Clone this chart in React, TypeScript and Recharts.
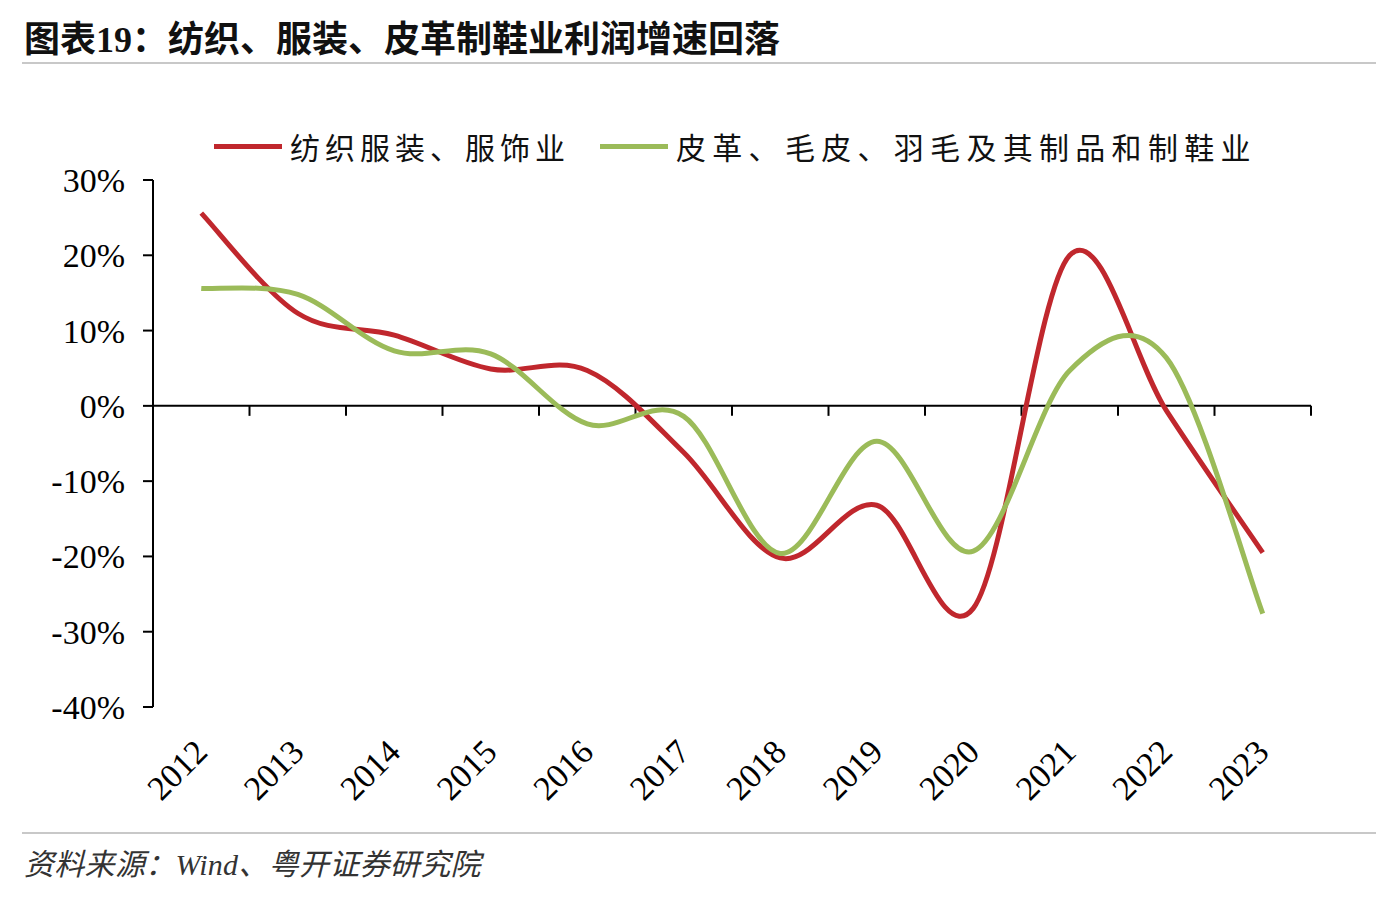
import { LineChart, Line, XAxis, YAxis, Legend, ReferenceLine } from "recharts";

const YEARS = ["2012", "2013", "2014", "2015", "2016", "2017", "2018", "2019", "2020", "2021", "2022", "2023"];
const TEXTILE = [25.6, 12.3, 9.4, 4.9, 4.7, -6.2, -20.2, -13.2, -26.9, 20.0, -0.6, -19.5];
const LEATHER = [15.6, 14.8, 7.3, 6.9, -2.4, -1.4, -19.6, -4.7, -19.3, 4.7, 6.4, -27.6];
const Y_TICKS = [-40, -30, -20, -10, 0, 10, 20, 30];

const SERIES_NAMES = ["纺织服装、服饰业", "皮革、毛皮、羽毛及其制品和制鞋业"];
const COLORS = ["#C0272D", "#9BBB59"];

const SERIF = "'Liberation Serif', 'Noto Sans CJK SC', serif";

const data = YEARS.map((year, i) => ({ year, textile: TEXTILE[i], leather: LEATHER[i] }));

// excel style smoothing (catmull-rom through every point)
const smoothCurve = (context: any) => {
  let pts: number[][] = [];
  return {
    areaStart() {},
    areaEnd() {},
    lineStart() {
      pts = [];
    },
    lineEnd() {
      if (!pts.length) return;
      context.moveTo(pts[0][0], pts[0][1]);
      for (let i = 0; i < pts.length - 1; i++) {
        const p0 = pts[Math.max(i - 1, 0)];
        const p1 = pts[i];
        const p2 = pts[i + 1];
        const p3 = pts[Math.min(i + 2, pts.length - 1)];
        context.bezierCurveTo(
          p1[0] + (p2[0] - p0[0]) / 6,
          p1[1] + (p2[1] - p0[1]) / 6,
          p2[0] - (p3[0] - p1[0]) / 6,
          p2[1] - (p3[1] - p1[1]) / 6,
          p2[0],
          p2[1]
        );
      }
    },
    point(x: number, y: number) {
      pts.push([x, y]);
    },
  };
};

const YearTick = (props: any) => {
  const { x, y, payload } = props;
  const ax = x + 8;
  const ay = y + 47;
  return (
    <text
      x={ax}
      y={ay}
      textAnchor="end"
      transform={`rotate(-45 ${ax} ${ay})`}
      fontSize={34}
      fontFamily={SERIF}
      fill="#000"
    >
      {payload.value}
    </text>
  );
};

// x axis sits on the zero line, ticks between categories
const ZeroAxis = (props: any) => {
  const { x1, y1, x2 } = props;
  const step = (x2 - x1) / YEARS.length;
  return (
    <g>
      <line x1={x1} y1={y1} x2={x2} y2={y1} stroke="#000" strokeWidth={2} />
      {YEARS.map((_, i) => {
        const tx = x1 + step * (i + 1);
        return <line key={i} x1={tx} y1={y1} x2={tx} y2={y1 + 10} stroke="#000" strokeWidth={2} />;
      })}
    </g>
  );
};

const LegendContent = (props: any) => {
  const payload = [...(props.payload || [])].sort(
    (a: any, b: any) => SERIES_NAMES.indexOf(a.value) - SERIES_NAMES.indexOf(b.value)
  );
  return (
    <div style={{ display: "flex", alignItems: "center", height: 40 }}>
      {payload.map((entry: any, i: number) => (
        <div key={entry.value} style={{ display: "flex", alignItems: "center", marginRight: i === 0 ? 30 : 0 }}>
          <span style={{ display: "inline-block", width: 68, height: 5, background: entry.color, marginRight: 8 }} />
          <span
            style={{
              fontSize: 30,
              letterSpacing: i === 0 ? 5 : 6.3,
              color: "#111",
              fontFamily: "'Noto Sans CJK SC'",
            }}
          >
            {entry.value}
          </span>
        </div>
      ))}
    </div>
  );
};

export default function App() {
  return (
    <div style={{ position: "relative", width: 1378, height: 890, background: "#fff", fontFamily: SERIF }}>
      <div
        style={{
          position: "absolute",
          left: 16,
          top: 12,
          fontSize: 36,
          lineHeight: "40px",
          fontWeight: "bold",
          color: "#111",
          whiteSpace: "nowrap",
        }}
      >
        图表19：纺织、服装、皮革制鞋业利润增速回落
      </div>
      <div style={{ position: "absolute", left: 14, top: 54, width: 1354, height: 2, background: "#c8c8c8" }} />

      <div style={{ position: "absolute", left: 0, top: 0 }}>
        <LineChart width={1378} height={820} data={data} margin={{ top: 172, right: 75, bottom: 21, left: 45 }}>
          <XAxis
            dataKey="year"
            scale="band"
            axisLine={false}
            tickLine={false}
            tickSize={0}
            tickMargin={0}
            interval={0}
            height={100}
            tick={<YearTick />}
          />
          <YAxis
            domain={[-40, 30]}
            ticks={Y_TICKS}
            interval={0}
            tickFormatter={(v: number) => `${v}%`}
            axisLine={{ stroke: "#000", strokeWidth: 2 }}
            tickLine={{ stroke: "#000", strokeWidth: 2 }}
            tickSize={10}
            tickMargin={18}
            width={100}
            tick={{ fontSize: 34, fill: "#000", fontFamily: SERIF }}
          />
          <ReferenceLine y={0} shape={<ZeroAxis />} />
          <Legend
            verticalAlign="middle"
            align="center"
            layout="horizontal"
            content={<LegendContent />}
            wrapperStyle={{ top: 118, left: 206, width: "auto" }}
          />
          <Line
            dataKey="textile"
            name={SERIES_NAMES[0]}
            type={smoothCurve as any}
            stroke={COLORS[0]}
            strokeWidth={5}
            dot={false}
            activeDot={false}
            isAnimationActive={false}
          />
          <Line
            dataKey="leather"
            name={SERIES_NAMES[1]}
            type={smoothCurve as any}
            stroke={COLORS[1]}
            strokeWidth={5}
            dot={false}
            activeDot={false}
            isAnimationActive={false}
          />
        </LineChart>
      </div>

      <div style={{ position: "absolute", left: 14, top: 824, width: 1354, height: 2, background: "#c8c8c8" }} />
      <div
        style={{
          position: "absolute",
          left: 16,
          top: 840,
          fontSize: 30,
          lineHeight: "34px",
          letterSpacing: 0.3,
          fontStyle: "italic",
          color: "#333",
          whiteSpace: "nowrap",
        }}
      >
        资料来源：Wind、粤开证券研究院
      </div>
    </div>
  );
}
